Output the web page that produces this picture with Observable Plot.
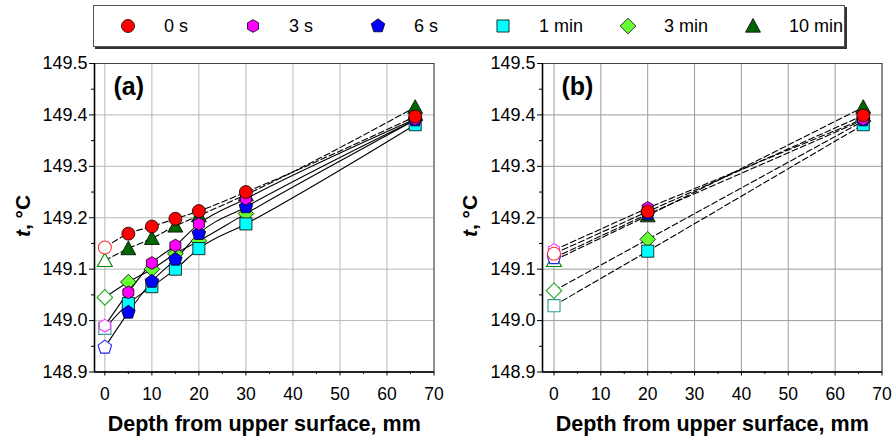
<!DOCTYPE html>
<html><head><meta charset="utf-8">
<script src="https://cdn.jsdelivr.net/npm/d3@7"></script>
<script src="https://cdn.jsdelivr.net/npm/@observablehq/plot@0.6"></script>
<style>
body{margin:0;background:#fff;}
#wrap{position:relative;width:896px;height:440px;overflow:hidden;font-family:"Liberation Sans",Arial,sans-serif;}
.panel{position:absolute;top:0;}
.ytitle{position:absolute;font-weight:bold;font-size:21px;transform:translate(-50%,-50%) rotate(-90deg);white-space:nowrap;line-height:1;}
#legend{position:absolute;left:93px;top:5px;width:750px;height:40px;border:1px solid #555;box-shadow:2px 2px 0 #333;display:flex;align-items:center;background:#fff;}
.item{width:125px;flex:none;display:flex;align-items:center;font-size:18px;}
.item svg{margin-left:25px;margin-right:27px;}
</style></head><body><div id="wrap"></div>
<script>
// ---- data ----
const seriesNames = ["0 s", "3 s", "6 s", "1 min", "3 min", "10 min"];
const depthsA = [0, 5, 10, 15, 20, 30, 66];
const a0s   = [149.142, 149.169, 149.183, 149.198, 149.213, 149.250, 149.397];
const a3s   = [148.990, 149.055, 149.112, 149.146, 149.188, 149.237, 149.392];
const a6s   = [148.948, 149.016, 149.076, 149.119, 149.169, 149.221, 149.390];
const a1min = [148.985, 149.033, 149.066, 149.100, 149.140, 149.188, 149.381];
const a3min = [149.045, 149.075, 149.100, 149.130, 149.155, 149.208, 149.390];
const a10min= [149.117, 149.140, 149.160, 149.184, 149.204, 149.245, 149.415];
const depthsB = [0, 20, 66];
const b0s   = [149.130, 149.212, 149.399];
const b3s   = [149.137, 149.219, 149.392];
const b6s   = [149.122, 149.207, 149.390];
const b1min = [149.029, 149.135, 149.381];
const b3min = [149.058, 149.158, 149.388];
const b10min= [149.117, 149.204, 149.415];
const xTicks = [0, 10, 20, 30, 40, 50, 60, 70];
const xMinor = [5, 15, 25, 35, 45, 55, 65];
const yTicks = [148.9, 149.0, 149.1, 149.2, 149.3, 149.4, 149.5];
const yMinor = [148.95, 149.05, 149.15, 149.25, 149.35, 149.45];
const xTitle = "Depth from upper surface, mm";

// ---- styles ----
const fillColors   = ["#ff0000", "#ff00ff", "#0000ff", "#00ffff", "#66ff33", "#006600"];
const hollowColors = ["#ff3333", "#ff33ff", "#2222ff", "#339999", "#22aa22", "#008800"];
const dashedA = [true, false, false, false, false, true];
const dashedB = [true, true, true, true, true, true];

function poly(n, k) {
  return {draw(c, s) {
    const r = Math.sqrt(s / Math.PI) * k;
    for (let i = 0; i < n; i++) {
      const a = (-90 + 360 * i / n) * Math.PI / 180;
      const x = r * Math.cos(a), y = r * Math.sin(a);
      i ? c.lineTo(x, y) : c.moveTo(x, y);
    }
    c.closePath();
  }};
}
const symbols = [
  {draw(c, s) { const r = Math.sqrt(s / Math.PI); c.moveTo(r, 0); c.arc(0, 0, r, 0, 2 * Math.PI); c.closePath(); }},
  poly(6, 0.98),
  poly(5, 1.1),
  {draw(c, s) { const r = Math.sqrt(s / Math.PI) * 0.93; c.rect(-r, -r, 2 * r, 2 * r); }},
  poly(4, 1.2),
  {draw(c, s) { const r = Math.sqrt(s / Math.PI); const h = r * 1.05; c.moveTo(0, -h * 1.1); c.lineTo(r * 1.15, h * 0.9); c.lineTo(-r * 1.15, h * 0.9); c.closePath(); }}
];

function panel(depths, vals, dashed, xmin, gridColor, tag) {
  const data = seriesNames.flatMap((n, i) => depths.map((d, j) => ({series: n, idx: i, depth: d, t: vals[i][j]})));
  const marks = [
    Plot.gridX(xTicks, {stroke: gridColor, strokeOpacity: 1, strokeWidth: 1}),
    Plot.gridY(yTicks, {stroke: gridColor, strokeOpacity: 1, strokeWidth: 1}),
    Plot.frame({stroke: "#444", strokeWidth: 1}),
    Plot.ruleX([xmin], {stroke: "#000", strokeWidth: 1.6}),
    Plot.ruleY([148.9], {stroke: "#000", strokeWidth: 1.6}),
    Plot.axisX(xTicks, {tickSize: 4, tickPadding: 12, fontSize: 17.5, label: null}),
    Plot.axisX(xMinor, {tickSize: 2.5, tickFormat: () => "", label: null}),
    Plot.axisY(yTicks, {tickSize: 5, tickPadding: 2, fontSize: 18, tickFormat: d => d.toFixed(1), label: null}),
    Plot.axisY(yMinor, {tickSize: 3, tickFormat: () => "", label: null}),
    Plot.text([xTitle], {frameAnchor: "bottom", dy: 52, lineAnchor: "middle", fontSize: 21.5, fontWeight: "bold", fill: "#000"})
  ];
  const dashedData = data.filter(d => dashed[d.idx]);
  const solidData = data.filter(d => !dashed[d.idx]);
  const curve = depths.length > 3 ? "monotone-x" : "linear";
  marks.push(Plot.line(solidData, {x: "depth", y: "t", z: "series", stroke: "#000", strokeWidth: 1.1, curve}));
  marks.push(Plot.line(dashedData, {x: "depth", y: "t", z: "series", stroke: "#000", strokeWidth: 1.1, strokeDasharray: "6,3", curve}));
  for (let i = seriesNames.length - 1; i >= 0; i--) {
    const sd = data.filter(d => d.idx === i);
    marks.push(Plot.dot(sd.filter(d => d.depth === 0), {x: "depth", y: "t", r: 6.5, symbol: symbols[i], fill: "#fff", stroke: hollowColors[i], strokeWidth: 1.1}));
    marks.push(Plot.dot(sd.filter(d => d.depth !== 0), {x: "depth", y: "t", r: 6.5, symbol: symbols[i], fill: fillColors[i], stroke: "#000", strokeWidth: 0.8}));
  }
  marks.push(Plot.text([tag], {frameAnchor: "top-left", dx: 19, dy: 14, lineAnchor: "top", textAnchor: "start", fontSize: 25, fontWeight: "bold", fill: "#000"}));
  return Plot.plot({
    width: 448, height: 440,
    marginLeft: 94, marginRight: 14.5, marginTop: 63, marginBottom: 68.5,
    style: {fontFamily: "'Liberation Sans', Arial, sans-serif", fontSize: "17px", color: "#000", background: "#fff"},
    x: {domain: [xmin, 70], axis: null},
    y: {domain: [148.9, 149.5], axis: null},
    marks
  });
}

const wrap = document.getElementById("wrap");
const pA = document.createElement("div"); pA.className = "panel"; pA.style.left = "0px";
pA.appendChild(panel(depthsA, [a0s, a3s, a6s, a1min, a3min, a10min], dashedA, -2.2, "#b8b8b8", "(a)"));
const pB = document.createElement("div"); pB.className = "panel"; pB.style.left = "448px";
pB.appendChild(panel(depthsB, [b0s, b3s, b6s, b1min, b3min, b10min], dashedB, -2.45, "#9c9c9c", "(b)"));
wrap.appendChild(pA); wrap.appendChild(pB);

for (const x of [22, 469]) {
  const t = document.createElement("div");
  t.className = "ytitle"; t.style.left = x + "px"; t.style.top = "216px";
  t.innerHTML = "<i>t</i>, °C";
  wrap.appendChild(t);
}

const legend = document.createElement("div"); legend.id = "legend";
seriesNames.forEach((n, i) => {
  const it = document.createElement("div"); it.className = "item";
  const svg = d3.create("svg").attr("width", 18).attr("height", 18);
  svg.append("path").attr("transform", "translate(9,9)")
    .attr("d", d3.symbol(symbols[i], Math.PI * 6.5 * 6.5)())
    .attr("fill", fillColors[i]).attr("stroke", "#000").attr("stroke-width", 0.8);
  it.appendChild(svg.node());
  const sp = document.createElement("span"); sp.textContent = n; it.appendChild(sp);
  legend.appendChild(it);
});
wrap.appendChild(legend);
</script></body></html>
